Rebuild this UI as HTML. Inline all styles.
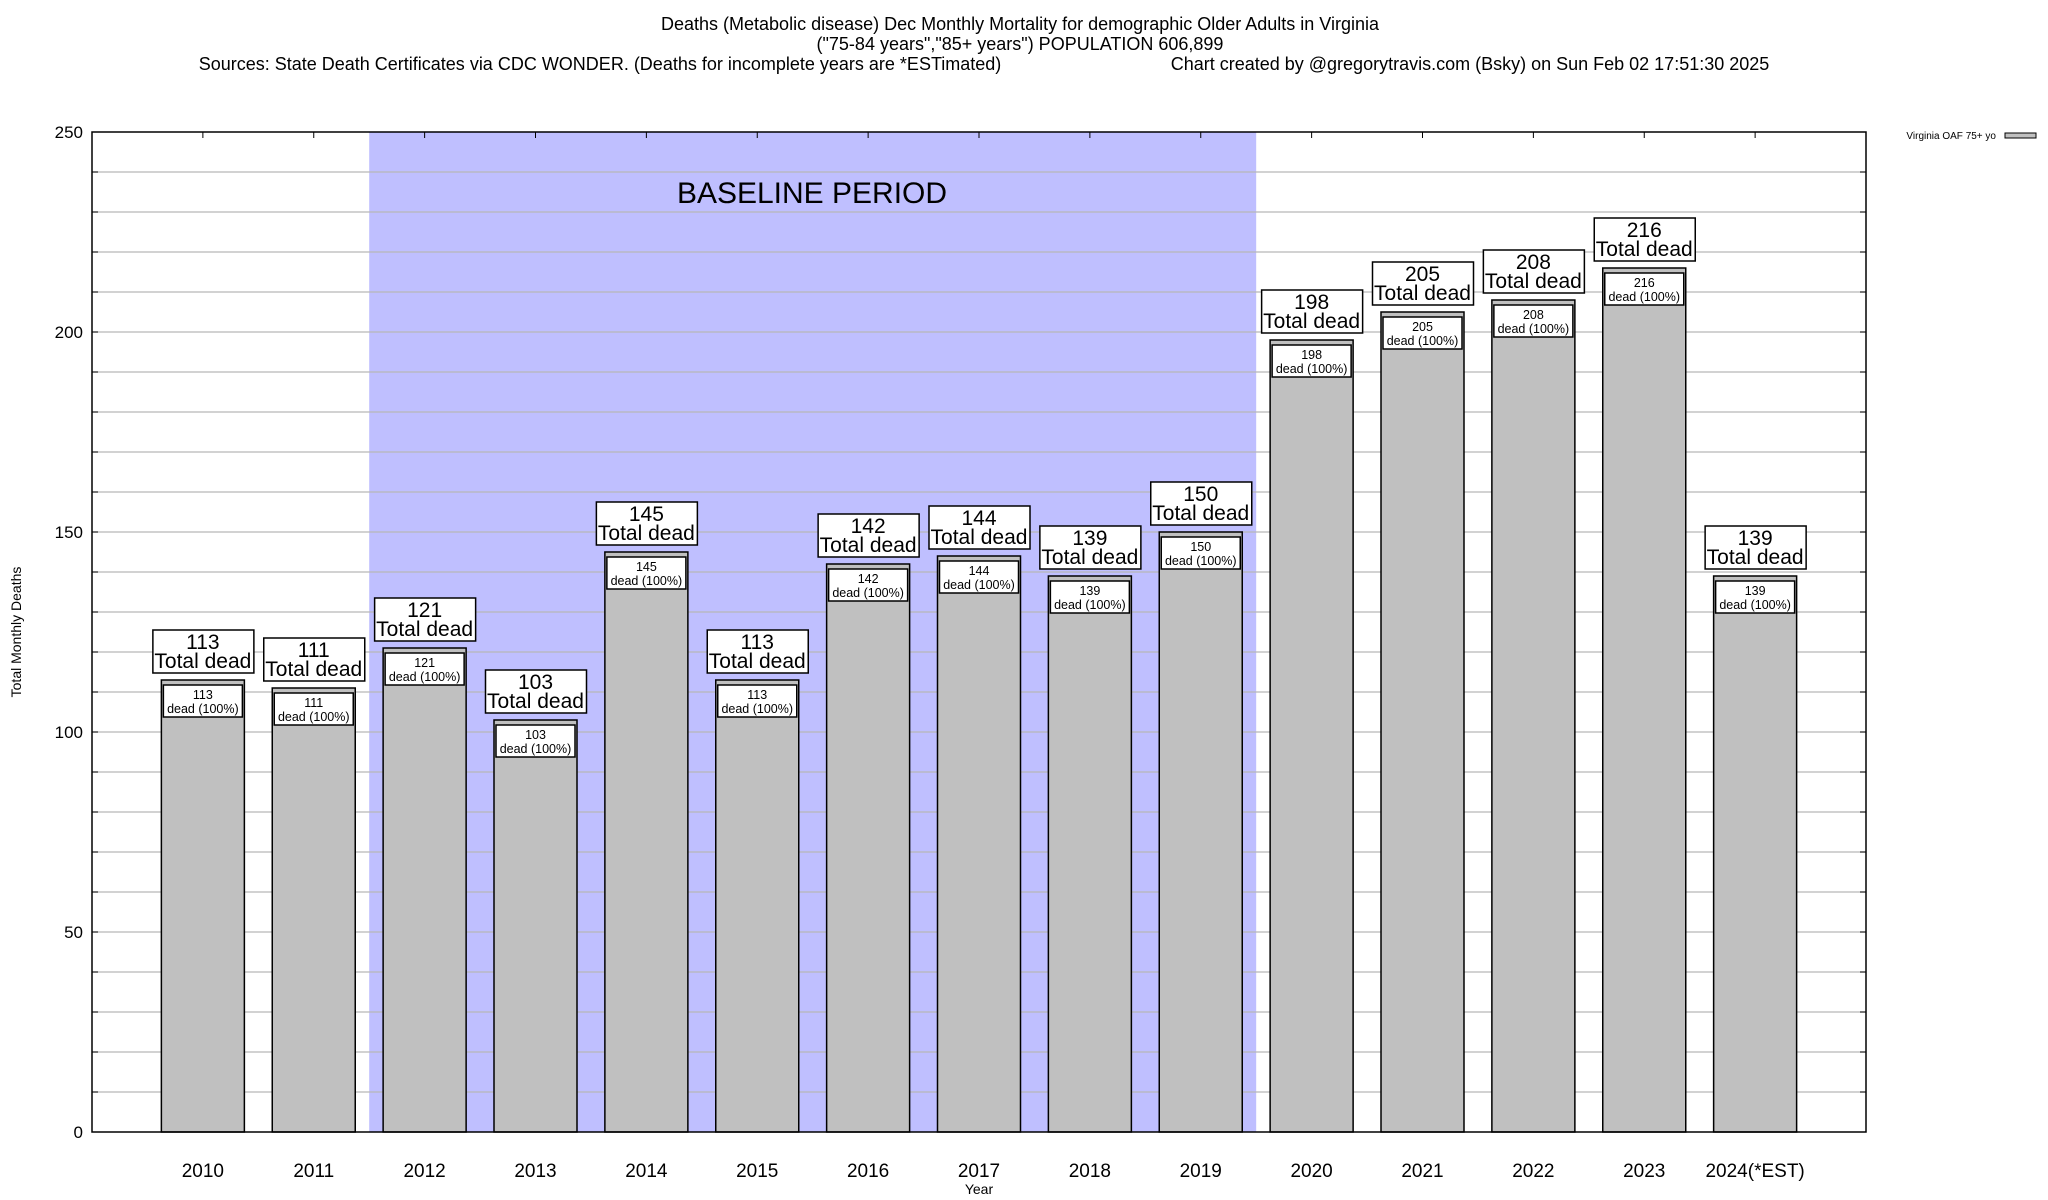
<!DOCTYPE html>
<html><head><meta charset="utf-8">
<style>
body{margin:0;background:#fff;}
svg{display:block;font-family:"Liberation Sans",Arial,sans-serif;}
</style></head>
<body>
<svg id="chart" width="2048" height="1200" viewBox="0 0 2048 1200" xmlns="http://www.w3.org/2000/svg">
<rect width="2048" height="1200" fill="#fff"/>
<g font-size="18" text-anchor="middle" fill="#000">
<text x="1020" y="30">Deaths (Metabolic disease) Dec Monthly Mortality for demographic Older Adults in Virginia</text>
<text x="1020" y="50">("75-84 years","85+ years") POPULATION 606,899</text>
<text x="600" y="70">Sources: State Death Certificates via CDC WONDER. (Deaths for incomplete years are *ESTimated)</text>
<text x="1470" y="70">Chart created by @gregorytravis.com (Bsky) on Sun Feb 02 17:51:30 2025</text>
</g>
<g id="plot"></g>
<text x="21" y="632" transform="rotate(-90 21 632)" font-size="14" text-anchor="middle">Total Monthly Deaths</text>
<text x="979" y="1194" font-size="14" text-anchor="middle">Year</text>
<g>
<text x="1996" y="139" font-size="10" text-anchor="end">Virginia OAF 75+ yo</text>
<rect x="2005" y="133" width="31" height="5" fill="#c0c0c0" stroke="#000" stroke-width="1"/>
</g>
</svg>
<script>
const categories = ["2010","2011","2012","2013","2014","2015","2016","2017","2018","2019","2020","2021","2022","2023","2024(*EST)"];
const deaths = [113,111,121,103,145,113,142,144,139,150,198,205,208,216,139];
const yTicks = [0,50,100,150,200,250];
const baselineStart = 1.5, baselineEnd = 9.5;

const NS = "http://www.w3.org/2000/svg";
const L = 92, R = 1866, T = 132, B = 1132;
const yMax = 250;
const xMin = -1, xMax = 15;
const xs = i => L + (i - xMin) / (xMax - xMin) * (R - L);
const ys = v => B - v / yMax * (B - T);
const barW = 83;
const plot = document.getElementById('plot');
function mk(tag, attrs, parent) {
  const e = document.createElementNS(NS, tag);
  for (const k in attrs) e.setAttribute(k, attrs[k]);
  (parent || plot).appendChild(e);
  return e;
}
// baseline shading
const shade = mk('rect', {x: xs(baselineStart), y: T, width: xs(baselineEnd) - xs(baselineStart), height: B - T, fill: '#bfbfff'});


// gridlines every 10
for (let v = 10; v < yMax; v += 10) {
  const g = mk('line', {x1: L, x2: R, y1: ys(v), y2: ys(v), stroke: '#b8b8b8', 'stroke-width': 1.3});
  
  
  const tk = mk('line', {x1: L, x2: L + 6, y1: ys(v), y2: ys(v), stroke: '#000', 'stroke-width': 1});
  
  
  const tk2 = mk('line', {x1: R - 6, x2: R, y1: ys(v), y2: ys(v), stroke: '#000', 'stroke-width': 1});
  
  
}
const bl = mk('text', {x: 812, y: 203, 'font-size': 30, 'text-anchor': 'middle'});
bl.textContent = 'BASELINE PERIOD';


// y ticks labels
yTicks.forEach(v => {
  const t = mk('text', {x: 83, y: ys(v) + 6, 'font-size': 17, 'text-anchor': 'end'});
  t.textContent = v;
  
  
});
// bars
categories.forEach((c, i) => {
  const v = deaths[i];
  const cx = xs(i), x0 = cx - barW / 2, top = ys(v);
  const bar = mk('rect', {x: x0, y: top, width: barW, height: B - top, fill: '#c0c0c0', stroke: '#000', 'stroke-width': 1.5});
  
  
  // inner label
  const ib = mk('rect', {x: x0 + 2, y: top + 5, width: barW - 4, height: 32, fill: '#fff', stroke: '#000', 'stroke-width': 1.5});
  
  
  const it1 = mk('text', {x: cx, y: top + 19, 'font-size': 12.5, 'text-anchor': 'middle'});
  it1.textContent = v;
  
  
  const it2 = mk('text', {x: cx, y: top + 33, 'font-size': 12.5, 'text-anchor': 'middle'});
  it2.textContent = 'dead (100%)';
  
  
  // outer label
  const ob = mk('rect', {x: cx - 50, y: top - 50, width: 101, height: 43, fill: '#fff', stroke: '#000', 'stroke-width': 1.5});
  
  
  const ot1 = mk('text', {x: cx, y: top - 31, 'font-size': 21, 'text-anchor': 'middle'});
  ot1.textContent = v;
  
  
  const ot2 = mk('text', {x: cx, y: top - 12, 'font-size': 21, 'text-anchor': 'middle'});
  ot2.textContent = 'Total dead';
  
  
  // x label & top tick
  const xl = mk('text', {x: cx, y: 1177, 'font-size': 19, 'text-anchor': 'middle'});
  xl.textContent = c;
  
  
  const tt = mk('line', {x1: cx, x2: cx, y1: T, y2: T + 6, stroke: '#000', 'stroke-width': 1});
  
  
});
const frame = mk('rect', {x: L, y: T, width: R - L, height: B - T, fill: 'none', stroke: '#000', 'stroke-width': 1.5});


</script>
</body></html>
